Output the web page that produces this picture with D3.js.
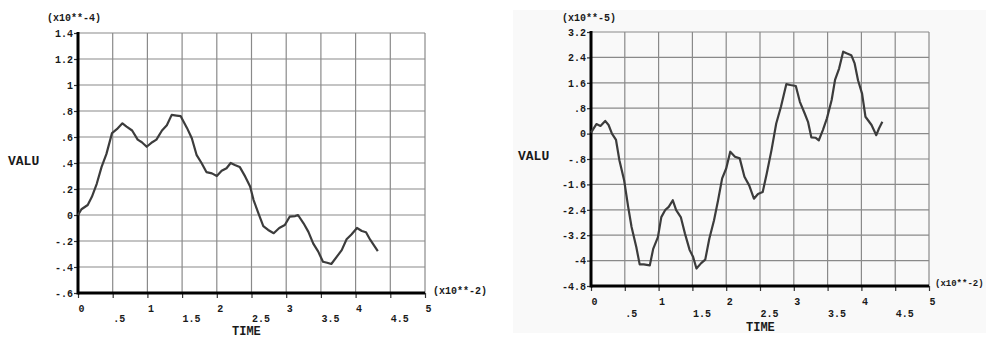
<!DOCTYPE html>
<html>
<head>
<meta charset="utf-8">
<script src="https://cdn.jsdelivr.net/npm/d3@7"></script>
<style>
  body { margin: 0; background: #fff; }
  text { font-family: "Liberation Mono", "DejaVu Sans Mono", monospace; font-weight: bold; fill: #1a1a1a; }
</style>
</head>
<body>
<script>
// time axis is in units of 10**-2, value in 10**-4 (left) and 10**-5 (right)
var xTicks = [0, 0.5, 1, 1.5, 2, 2.5, 3, 3.5, 4, 4.5, 5];

var leftYTicks = [-0.6, -0.4, -0.2, 0, 0.2, 0.4, 0.6, 0.8, 1, 1.2, 1.4];
var leftTime = [0, 0.05, 0.14, 0.2, 0.27, 0.34, 0.41, 0.49, 0.56, 0.64, 0.7, 0.78, 0.86, 0.92,
    0.99, 1.07, 1.13, 1.21, 1.28, 1.35, 1.42, 1.48, 1.57, 1.64, 1.71, 1.78, 1.85, 1.93, 2.0,
    2.07, 2.14, 2.2, 2.26, 2.33, 2.41, 2.48, 2.53, 2.6, 2.67, 2.74, 2.82, 2.9, 2.98, 3.05,
    3.13, 3.17, 3.25, 3.32, 3.39, 3.46, 3.53, 3.59, 3.65, 3.73, 3.8, 3.87, 3.94, 4.02, 4.09,
    4.15, 4.21, 4.26, 4.32];
var leftValu = [0, 0.044, 0.077, 0.14, 0.24, 0.37, 0.47, 0.63, 0.66, 0.705, 0.68, 0.65, 0.58, 0.56,
    0.525, 0.56, 0.58, 0.65, 0.69, 0.77, 0.765, 0.76, 0.67, 0.59, 0.46, 0.4, 0.33, 0.32, 0.3,
    0.34, 0.36, 0.4, 0.385, 0.37, 0.295, 0.22, 0.115, 0.013, -0.085, -0.115, -0.14, -0.1, -0.077, -0.013,
    -0.008, 0, -0.064, -0.13, -0.22, -0.28, -0.36, -0.367, -0.377, -0.32, -0.27, -0.187, -0.15, -0.1, -0.123,
    -0.133, -0.19, -0.23, -0.277];

var rightYTicks = [-4.8, -4, -3.2, -2.4, -1.6, -0.8, 0, 0.8, 1.6, 2.4, 3.2];
var rightTime = [0, 0.08, 0.14, 0.21, 0.26, 0.31, 0.37, 0.42, 0.49, 0.55, 0.6, 0.67, 0.72, 0.78,
    0.87, 0.92, 0.99, 1.04, 1.1, 1.15, 1.21, 1.26, 1.33, 1.39, 1.46, 1.51, 1.56, 1.63, 1.69,
    1.75, 1.82, 1.88, 1.94, 2.0, 2.06, 2.13, 2.2, 2.27, 2.34, 2.41, 2.47, 2.54, 2.6, 2.67,
    2.74, 2.81, 2.89, 2.95, 3.03, 3.09, 3.16, 3.21, 3.26, 3.32, 3.37, 3.43, 3.49, 3.56, 3.61,
    3.67, 3.73, 3.78, 3.85, 3.9, 3.95, 4.01, 4.06, 4.15, 4.22, 4.26, 4.31];
var rightValu = [0.03, 0.3, 0.24, 0.4, 0.27, 0, -0.2, -0.84, -1.47, -2.31, -2.94, -3.57, -4.12, -4.12,
    -4.15, -3.63, -3.26, -2.63, -2.4, -2.31, -2.1, -2.41, -2.64, -3.15, -3.67, -3.88, -4.25, -4.08, -3.97,
    -3.31, -2.73, -2.1, -1.41, -1.1, -0.57, -0.73, -0.78, -1.36, -1.63, -2.05, -1.9, -1.84, -1.26, -0.52,
    0.32, 0.845, 1.56, 1.53, 1.5, 1.0, 0.64, 0.37, -0.12, -0.13, -0.21, 0.11, 0.48, 1.06, 1.69,
    2.05, 2.58, 2.53, 2.47, 2.21, 1.68, 1.26, 0.53, 0.27, -0.05, 0.16, 0.37];

var svg = d3.select("body").append("svg")
    .attr("width", 986)
    .attr("height", 340);

// light grey backdrop behind the right plot
svg.append("rect")
    .attr("x", 513).attr("y", 10)
    .attr("width", 480).attr("height", 323)
    .attr("fill", "#f9f9f9");

// ANSYS style numbers: no leading zero, plain hyphen
function tickText(d) {
    return String(+d.toFixed(2)).replace(/^(-?)0\./, "$1.");
}

function drawPlot(p) {
    var x = d3.scaleLinear().domain([0, 5]).range([p.left, p.right]);
    var y = d3.scaleLinear().domain(p.yDomain).range([p.bottom, p.top]);
    var g = svg.append("g");

    // grid
    g.selectAll(".vgrid").data(xTicks).enter().append("line")
        .attr("x1", function(d) { return x(d); })
        .attr("x2", function(d) { return x(d); })
        .attr("y1", p.top).attr("y2", p.bottom)
        .attr("stroke", "#8a8a8a").attr("stroke-width", 1.2);
    g.selectAll(".hgrid").data(p.yTicks).enter().append("line")
        .attr("x1", p.left).attr("x2", p.right)
        .attr("y1", function(d) { return y(d); })
        .attr("y2", function(d) { return y(d); })
        .attr("stroke", "#8a8a8a").attr("stroke-width", 1.2);

    // y axis
    var ya = g.append("g")
        .attr("transform", "translate(" + p.left + ",0)")
        .call(d3.axisLeft(y).tickValues(p.yTicks).tickSize(4).tickPadding(1).tickFormat(tickText));
    ya.select(".domain").remove();
    ya.selectAll("line").attr("stroke", "#333").attr("stroke-width", 1.2);
    ya.selectAll("text").style("font-size", "10px").attr("fill", "#1a1a1a");

    // x axis, integers on one row, halves below
    var xa = g.append("g")
        .attr("transform", "translate(0," + p.bottom + ")")
        .call(d3.axisBottom(x).tickValues(xTicks).tickSize(5).tickFormat(tickText));
    xa.select(".domain").remove();
    xa.selectAll("line").attr("stroke", "#333").attr("stroke-width", 1.2);
    xa.selectAll("text")
        .style("font-size", "10px")
        .attr("fill", "#1a1a1a")
        .attr("text-anchor", "start")
        .attr("dy", "0.35em")
        .attr("y", function(d) { return d % 1 === 0 ? p.row1 : p.row2; });

    // heavy axis lines
    g.append("line")
        .attr("x1", p.left).attr("x2", p.left)
        .attr("y1", p.top - 1).attr("y2", p.bottom + 1.5)
        .attr("stroke", "#000").attr("stroke-width", 3);
    g.append("line")
        .attr("x1", p.left).attr("x2", p.right)
        .attr("y1", p.bottom).attr("y2", p.bottom)
        .attr("stroke", "#000").attr("stroke-width", 3);

    // curve
    var pts = p.time.map(function(t, i) { return [t, p.valu[i]]; });
    g.append("path")
        .datum(pts)
        .attr("fill", "none")
        .attr("stroke", "#3c3c3c")
        .attr("stroke-width", 2.2)
        .attr("stroke-linejoin", "round")
        .attr("d", d3.line()
            .x(function(d) { return x(d[0]); })
            .y(function(d) { return y(d[1]); }));

    // labels
    g.append("text").text(p.yExp)
        .attr("x", p.yExpX).attr("y", 17).attr("dy", "0.35em")
        .style("font-size", "10px");
    g.append("text").text("VALU")
        .attr("x", p.valuX).attr("y", p.valuY).attr("dy", "0.35em")
        .style("font-size", "13px");
    g.append("text").text("TIME")
        .attr("x", p.timeX).attr("y", p.timeY).attr("dy", "0.35em")
        .style("font-size", "12px");
    g.append("text").text("(x10**-2)")
        .attr("x", p.right + p.expGap).attr("y", p.bottom - 3).attr("dy", "0.35em")
        .style("font-size", p.expSize);
}

drawPlot({
    left: 78, right: 425, top: 33, bottom: 293,
    yDomain: [-0.6, 1.4], yTicks: leftYTicks,
    time: leftTime, valu: leftValu,
    row1: 15, row2: 25.5,
    yExp: "(x10**-4)", yExpX: 47,
    valuX: 8, valuY: 160,
    timeX: 232, timeY: 331,
    expGap: 8, expSize: "10px"
});

drawPlot({
    left: 591, right: 929, top: 32, bottom: 286,
    yDomain: [-4.8, 3.2], yTicks: rightYTicks,
    time: rightTime, valu: rightValu,
    row1: 15, row2: 27,
    yExp: "(x10**-5)", yExpX: 562,
    valuX: 518, valuY: 155,
    timeX: 746, timeY: 327,
    expGap: 6, expSize: "9px"
});
</script>
</body>
</html>
